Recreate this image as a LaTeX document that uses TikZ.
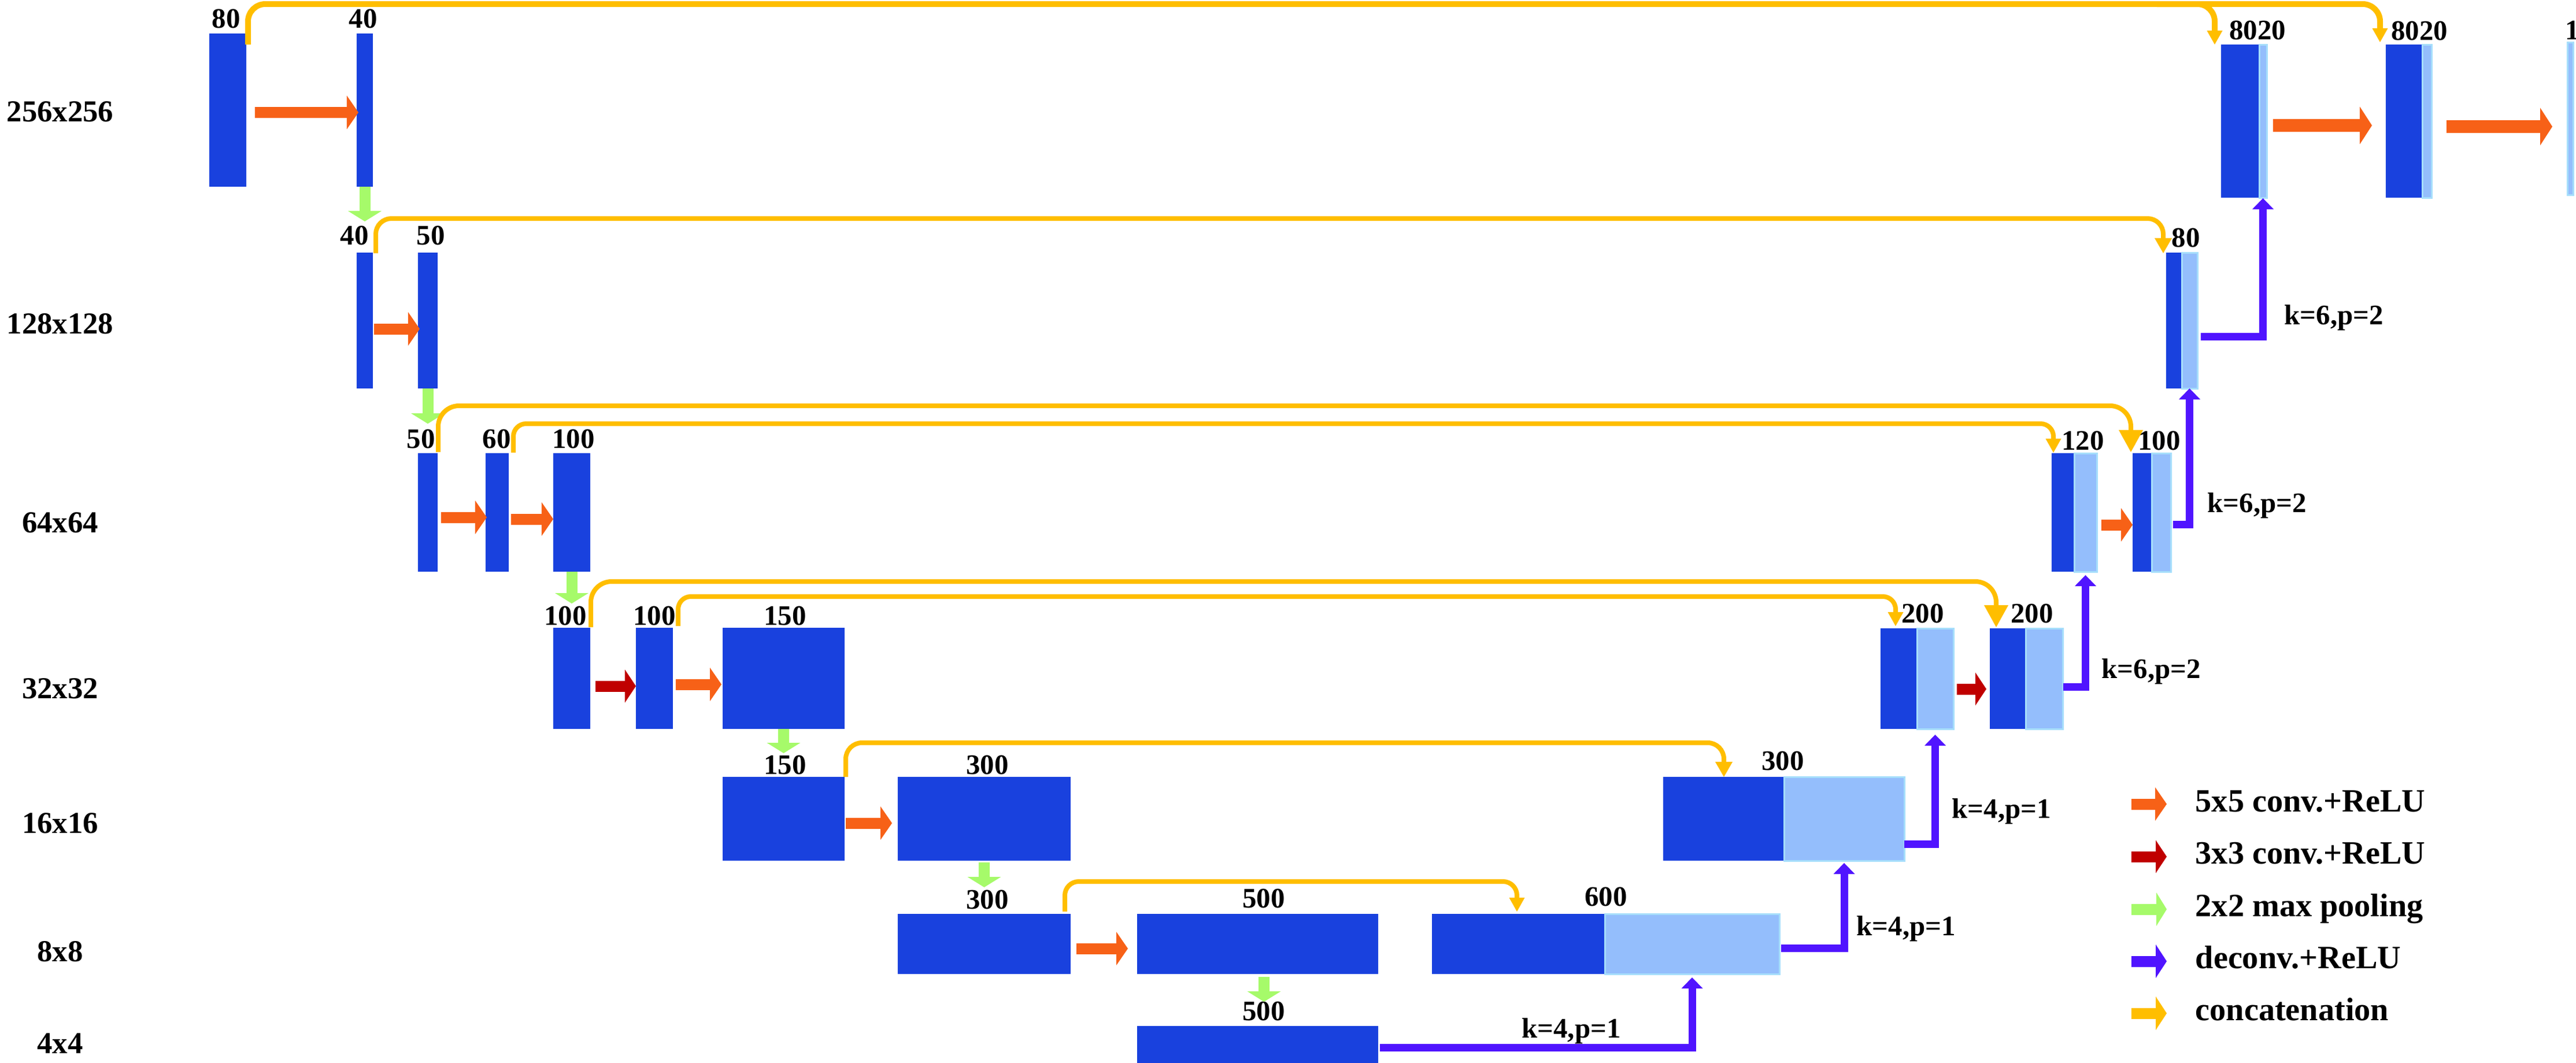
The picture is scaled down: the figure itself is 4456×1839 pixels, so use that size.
\documentclass[tikz,border=0pt]{standalone}
\usepackage{fontspec}
\setmainfont{Liberation Serif}
\usetikzlibrary{arrows.meta,calc,fit}
\definecolor{dkblue}{HTML}{1941DE}
\definecolor{ltfill}{HTML}{94BEFC}
\definecolor{ltedge}{HTML}{A6DEFB}
\definecolor{convc}{HTML}{F76117}
\definecolor{convthree}{HTML}{C00000}
\definecolor{poolc}{HTML}{A6FA6A}
\definecolor{deconvc}{HTML}{5014FF}
\definecolor{catc}{HTML}{FFBE00}
\newcommand\numfont{\fontsize{13.9pt}{16pt}\selectfont\bfseries}
\newcommand\rowfont{\fontsize{15pt}{17pt}\selectfont\bfseries}
\newcommand\legfont{\fontsize{16pt}{18pt}\selectfont\bfseries}
\begin{document}
\begin{tikzpicture}[x=0.01cm,y=-0.01cm,
  blk/.style={fill=dkblue, inner sep=0pt, outer sep=0pt},
  lblk/.style={fill=ltfill, draw=ltedge, line width=0.03cm, inner sep=0pt, outer sep=0pt},
  num/.style={font=\numfont, inner sep=0pt, anchor=base},
  kp/.style={font=\numfont, inner sep=0pt, anchor=base west},
  rowlab/.style={font=\rowfont, inner sep=0pt},
  leglab/.style={font=\legfont, inner sep=0pt, anchor=base west},
  convarrow/.style={draw=convc, line width=0.19cm, -{Triangle[width=0.58cm,length=0.2cm,line width=0pt]}},
  bigconv/.style={draw=convc, line width=0.22cm, -{Triangle[width=0.65cm,length=0.21cm,line width=0pt]}},
  conv3arrow/.style={draw=convthree, line width=0.19cm, -{Triangle[width=0.57cm,length=0.19cm,line width=0pt]}},
  poolarrow/.style={draw=poolc, line width=0.19cm, -{Triangle[width=0.58cm,length=0.18cm,line width=0pt]}},
  deconvarrow/.style={draw=deconvc, line width=0.13cm, -{Triangle[width=0.37cm,length=0.19cm,line width=0pt]}},
  catarrow/.style={draw=catc, line width=0.08cm, -{Triangle[width=0.3cm,length=0.26cm,line width=0pt]}},
  catsmall/.style={draw=catc, line width=0.08cm, -{Triangle[width=0.27cm,length=0.24cm,line width=0pt]}},
  catbig/.style={draw=catc, line width=0.08cm, -{Triangle[width=0.42cm,length=0.38cm,line width=0pt]}},
]
\useasboundingbox (0,0) rectangle (4456,1839);

% ---------- blocks ----------
\node[blk, fit={(362,58) (426,323)}] (A1) {};
\node[blk, fit={(617,58) (645,323)}] (A2) {};
\node[blk, fit={(617,437) (645,672)}] (B1) {};
\node[blk, fit={(723,437) (757,672)}] (B2) {};
\node[blk, fit={(723,784) (757,989)}] (C1) {};
\node[blk, fit={(840,784) (880,989)}] (C2) {};
\node[blk, fit={(957,784) (1021,989)}] (C3) {};
\node[blk, fit={(957,1086) (1021,1261)}] (D1) {};
\node[blk, fit={(1100,1086) (1164,1261)}] (D2) {};
\node[blk, fit={(1250,1086) (1461,1261)}] (D3) {};
\node[blk, fit={(1250,1344) (1461,1489)}] (E1) {};
\node[blk, fit={(1553,1344) (1852,1489)}] (E2) {};
\node[blk, fit={(1553,1581) (1852,1685)}] (J1) {};
\node[blk, fit={(1967,1581) (2384,1685)}] (J2) {};
\node[blk, fit={(1967,1775) (2384,1845)}] (M) {};
\node[blk, fit={(2477,1581) (2776,1685)}] (L1) {};
\node[lblk, fit={(2776,1581) (3078,1685)}] (L1L) {};
\node[blk, fit={(2877,1344) (3086,1489)}] (K1) {};
\node[lblk, fit={(3086,1344) (3294,1489)}] (K1L) {};
\node[blk, fit={(3253,1087) (3316,1261)}] (I1) {};
\node[lblk, fit={(3316,1087) (3379,1261)}] (I1L) {};
\node[blk, fit={(3442,1087) (3504,1261)}] (I2) {};
\node[lblk, fit={(3504,1087) (3568,1261)}] (I2L) {};
\node[blk, fit={(3549,784) (3588,989)}] (H1) {};
\node[lblk, fit={(3588,784) (3627,989)}] (H1L) {};
\node[blk, fit={(3689,784) (3722,989)}] (H2) {};
\node[lblk, fit={(3722,784) (3755,989)}] (H2L) {};
\node[blk, fit={(3747,437) (3774,672)}] (G) {};
\node[lblk, fit={(3774,437) (3801,672)}] (GL) {};
\node[blk, fit={(3842,77) (3908,342)}] (F1) {};
\node[lblk, fit={(3908,77) (3921,342)}] (F1L) {};
\node[blk, fit={(4127,77) (4190,342)}] (F2) {};
\node[lblk, fit={(4190,77) (4206,342)}] (F2L) {};
\node[lblk, fit={(4441,73) (4451,337)}] (OUT) {};

% ---------- channel labels ----------
\node[num] (tA1) at (391,48) {80};
\node[num] (tA2) at (628,48) {40};
\node[num] (tB1) at (613,423) {40};
\node[num] (tB2) at (745,423) {50};
\node[num] (tC1) at (728,775) {50};
\node[num] (tC2) at (859,775) {60};
\node[num] (tC3) at (992,775) {100};
\node[num] (tD1) at (978,1081) {100};
\node[num] (tD2) at (1132,1081) {100};
\node[num] (tD3) at (1358,1081) {150};
\node[num] (tE1) at (1358,1339) {150};
\node[num] (tE2) at (1708,1339) {300};
\node[num] (tJ1) at (1708,1572) {300};
\node[num] (tJ2) at (2186,1570) {500};
\node[num] (tM) at (2186,1765) {500};
\node[num] (tL1) at (2778,1567) {600};
\node[num] (tK1) at (3084,1332) {300};
\node[num] (tI1) at (3326,1077) {200};
\node[num] (tI2) at (3515,1077) {200};
\node[num] (tH1) at (3603,778) {120};
\node[num] (tH2) at (3735,778) {100};
\node[num] (tG) at (3781,427) {80};
\node[num] (tF1) at (3905,68) {8020};
\node[num] (tF2) at (4185,69) {8020};
\node[kp] (tOUT) at (4437,68) {1};

% ---------- row labels ----------
\node[rowlab] (r256) at (104,193) {256x256};
\node[rowlab] (r128) at (104,560) {128x128};
\node[rowlab] (r64) at (104,904) {64x64};
\node[rowlab] (r32) at (104,1191) {32x32};
\node[rowlab] (r16) at (104,1424) {16x16};
\node[rowlab] (r8) at (104,1646) {8x8};
\node[rowlab] (r4) at (104,1805) {4x4};

% ---------- conv arrows ----------
\draw[convarrow] ($(A1.east)+(15,4)$) -- ($(A2.west)+(3,4)$);
\draw[convarrow] ($(B1.east)+(2,14.5)$) -- ($(B2.west)+(3,14.5)$);
\draw[convarrow] ($(C1.east)+(6,8.5)$) -- ($(C2.west)+(2,8.5)$);
\draw[convarrow] ($(C2.east)+(4,11.5)$) -- ($(C3.west)+(0,11.5)$);
\draw[conv3arrow] ($(D1.east)+(9,13.5)$) -- ($(D2.west)+(0,13.5)$);
\draw[convarrow] ($(D2.east)+(5,10.5)$) -- ($(D3.west)+(-2,10.5)$);
\draw[convarrow] ($(E1.east)+(2,7.5)$) -- ($(E2.west)+(-10,7.5)$);
\draw[convarrow] ($(J1.east)+(10,8)$) -- ($(J2.west)+(-16,8)$);
\draw[conv3arrow] ($(I1L.east)+(6,18)$) -- ($(I2.west)+(-6,18)$);
\draw[convarrow] ($(H1L.east)+(8,21.5)$) -- ($(H2.west)+(0,21.5)$);
\draw[bigconv] ($(F1L.east)+(11,7.5)$) -- ($(F2.west)+(-24,7.5)$);
\draw[bigconv] ($(F2L.east)+(26,9.5)$) -- ($(OUT.west)+(-26,14)$);

% ---------- pooling arrows ----------
\draw[poolarrow] (A2.south) -- ($(B1.north)+(0,-54)$);
\draw[poolarrow] (B2.south) -- ($(C1.north)+(0,-51)$);
\draw[poolarrow] (C3.south) -- ($(D1.north)+(0,-42)$);
\draw[poolarrow] (D3.south) -- ($(E1.north)+(0,-41)$);
\draw[poolarrow] ($(E2.south)+(0,3)$) -- ($(J1.north)+(0,-46)$);
\draw[poolarrow] ($(J2.south)+(11,5)$) -- ($(M.north)+(11,-42)$);

% ---------- deconv arrows ----------
\draw[deconvarrow] ($(M.north east)+(3,37)$) -| ($(L1L.south)+(0,6)$);
\draw[deconvarrow] ($(L1L.south east)+(3,-45)$) -| ($(K1L.south)+(0,4)$);
\draw[deconvarrow] ($(K1L.south east)+(0,-29)$) -| ($(I1L.south)+(0,10)$);
\draw[deconvarrow] ($(I2L.south east)+(1,-73)$) -| ($(H1L.south)+(0,6)$);
\draw[deconvarrow] ($(H2L.south east)+(4,-82)$) -| (GL.south);
\draw[deconvarrow] ($(GL.south east)+(6,-90)$) -| ($(F1L.south)+(0,1)$);

\node[kp] (k1) at (3951,561) {k=6,p=2};
\node[kp] (k2) at (3818,886) {k=6,p=2};
\node[kp] (k3) at (3635,1173) {k=6,p=2};
\node[kp] (k4) at (3376,1415) {k=4,p=1};
\node[kp] (k5) at (3211,1618) {k=4,p=1};
\node[num] (k6) at (2718,1795) {k=4,p=1};

% ---------- concatenation arrows ----------
\draw[catsmall, line width=0.1cm, rounded corners=0.3cm] ($(A1.north east)+(3,19)$) |- ($(F2.north west)+(-10,-70)$) -- ($(F2.north west)+(-10,-4)$);
\draw[catsmall, line width=0.1cm, rounded corners=0.3cm] ($(F1.north west)+(-111,-70)$) -| ($(F1.north west)+(-11,0)$);
\draw[catarrow, rounded corners=0.27cm] ($(B1.north east)+(5,1)$) |- ($(G.north west)+(-5,-59)$) -- ($(G.north west)+(-5,1)$);
\draw[catbig, rounded corners=0.36cm] ($(C1.north east)+(1,-2)$) |- ($(H2.north west)+(-3,-82)$) -- ($(H2.north west)+(-3,-2)$);
\draw[catsmall, rounded corners=0.22cm] ($(C2.north east)+(8,-1)$) |- ($(H1.north west)+(3,-51)$) -- ($(H1.north west)+(3,-1)$);
\draw[catbig, rounded corners=0.36cm] ($(D1.north east)+(1,-1)$) |- ($(I2.north west)+(11,-81)$) -- ($(I2.north west)+(11,-2)$);
\draw[catsmall, rounded corners=0.22cm] ($(D2.north east)+(9,-3)$) |- ($(I1.north west)+(26,-55)$) -- ($(I1.north west)+(26,-4)$);
\draw[catarrow, rounded corners=0.28cm] ($(E1.north east)+(2,0)$) |- ($(K1.north west)+(105,-59)$) -- ($(K1.north west)+(105,0)$);
\draw[catsmall, rounded corners=0.24cm] ($(J1.north east)+(-10,-4)$) |- ($(L1.north west)+(147,-56)$) -- ($(L1.north west)+(147,-4)$);

% ---------- legend ----------
\coordinate (lg1) at (3687,1391);
\coordinate (lg2) at (3687,1482);
\coordinate (lg3) at (3687,1573);
\coordinate (lg4) at (3687,1663);
\coordinate (lg5) at (3687,1753);
\draw[convarrow] (lg1) -- ++(61,0);
\draw[conv3arrow] (lg2) -- ++(61,0);
\draw[poolarrow] (lg3) -- ++(61,0);
\draw[deconvarrow, line width=0.19cm, -{Triangle[width=0.58cm,length=0.19cm,line width=0pt]}] (lg4) -- ++(61,0);
\draw[catarrow, line width=0.19cm, -{Triangle[width=0.58cm,length=0.19cm,line width=0pt]}] (lg5) -- ++(61,0);
\node[leglab] (lt1) at (3797,1404) {5x5 conv.+ReLU};
\node[leglab] (lt2) at (3797,1494) {3x3 conv.+ReLU};
\node[leglab] (lt3) at (3797,1585) {2x2 max pooling};
\node[leglab] (lt4) at (3797,1675) {deconv.+ReLU};
\node[leglab] (lt5) at (3797,1765) {concatenation};
\end{tikzpicture}
\end{document}
